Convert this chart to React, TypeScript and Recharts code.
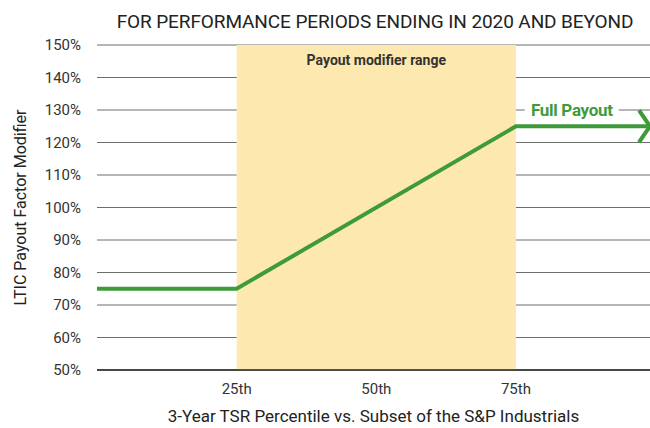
import {
  ComposedChart,
  Line,
  XAxis,
  YAxis,
  CartesianGrid,
  ReferenceArea,
  ReferenceDot,
} from "recharts";

const percentiles = [0, 25, 75, 99];
const modifier = [75, 75, 125, 125];
const xTicks = [25, 50, 75];
const xTickLabels = ["25th", "50th", "75th"];
const yTicks = [50, 60, 70, 80, 90, 100, 110, 120, 130, 140, 150];
const rangeStart = 25;
const rangeEnd = 75;
const fullPayoutAt = { x: 85, y: 130 };

const data = percentiles.map((p, i) => ({ p, v: modifier[i] }));

const GREEN = "#3f9b3a";
const FONT = "Roboto, 'Noto Sans', sans-serif";

function ArrowDot(props: any) {
  const { cx, cy, index } = props;
  if (index !== data.length - 1) return <g key={index} />;
  return (
    <polyline
      key={index}
      points={`${cx - 11},${cy - 16} ${cx},${cy} ${cx - 11},${cy + 16}`}
      fill="none"
      stroke={GREEN}
      strokeWidth={4}
    />
  );
}

function FullPayoutLabel(props: any) {
  const { viewBox } = props;
  const cx = viewBox.x + viewBox.width / 2;
  const cy = viewBox.y + viewBox.height / 2;
  return (
    <g>
      <rect x={cx - 47} y={cy - 10} width={94} height={20} fill="#fff" />
      <text
        x={cx}
        y={cy + 6}
        textAnchor="middle"
        fill={GREEN}
        fontSize={17}
        fontWeight={700}
        fontFamily={FONT}
        style={{ letterSpacing: "-0.3px" }}
      >
        Full Payout
      </text>
    </g>
  );
}

export default function App() {
  return (
    <div style={{ position: "absolute", left: 0, top: 0, width: 650, height: 428, background: "#fff" }}>
      <div
        style={{
          position: "absolute",
          left: 0,
          top: 10,
          width: 750,
          textAlign: "center",
          fontFamily: FONT,
          fontSize: 19,
          color: "#222",
          letterSpacing: "-0.1px",
        }}
      >
        FOR PERFORMANCE PERIODS ENDING IN 2020 AND BEYOND
      </div>
      <ComposedChart
        width={650}
        height={428}
        data={data}
        margin={{ top: 45, right: 0, bottom: 0, left: 0 }}
      >
        <ReferenceArea
          x1={rangeStart}
          x2={rangeEnd}
          y1={50}
          y2={150}
          fill="#fde9b0"
          fillOpacity={1}
          stroke="none"
          label={{
            value: "Payout modifier range",
            position: "insideTop",
            offset: 10,
            fill: "#333",
            fontSize: 14,
            fontWeight: 700,
            fontFamily: FONT,
          }}
        />
        <CartesianGrid vertical={false} stroke="#6e6e6e" strokeWidth={1} />
        <XAxis
          dataKey="p"
          type="number"
          domain={[0, 99]}
          ticks={xTicks}
          tickFormatter={(v: number) => xTickLabels[xTicks.indexOf(v)]}
          tickLine={false}
          tickSize={0}
          tickMargin={13}
          height={58}
          axisLine={{ stroke: "#222", strokeWidth: 1.5 }}
          tick={{ fill: "#333", fontSize: 15, fontFamily: FONT }}
          label={{
            value: "3-Year TSR Percentile vs. Subset of the S&P Industrials",
            position: "insideBottom",
            offset: 6,
            fill: "#222",
            fontSize: 17,
            fontFamily: FONT,
          }}
        />
        <YAxis
          type="number"
          domain={[50, 150]}
          ticks={yTicks}
          tickFormatter={(v: number) => `${v}%`}
          width={97}
          axisLine={false}
          tickLine={false}
          tickSize={0}
          tickMargin={16}
          tick={{ fill: "#333", fontSize: 15, fontFamily: FONT }}
          label={{
            value: "LTIC Payout Factor Modifier",
            angle: -90,
            position: "insideLeft",
            offset: 20,
            fill: "#222",
            fontSize: 16,
            fontFamily: FONT,
            style: { textAnchor: "middle" },
          }}
        />
        <Line
          dataKey="v"
          type="linear"
          stroke={GREEN}
          strokeWidth={4}
          dot={ArrowDot}
          activeDot={false}
          isAnimationActive={false}
        />
        <ReferenceDot
          x={fullPayoutAt.x}
          y={fullPayoutAt.y}
          r={0}
          stroke="none"
          fill="none"
          label={<FullPayoutLabel />}
        />
      </ComposedChart>
    </div>
  );
}
